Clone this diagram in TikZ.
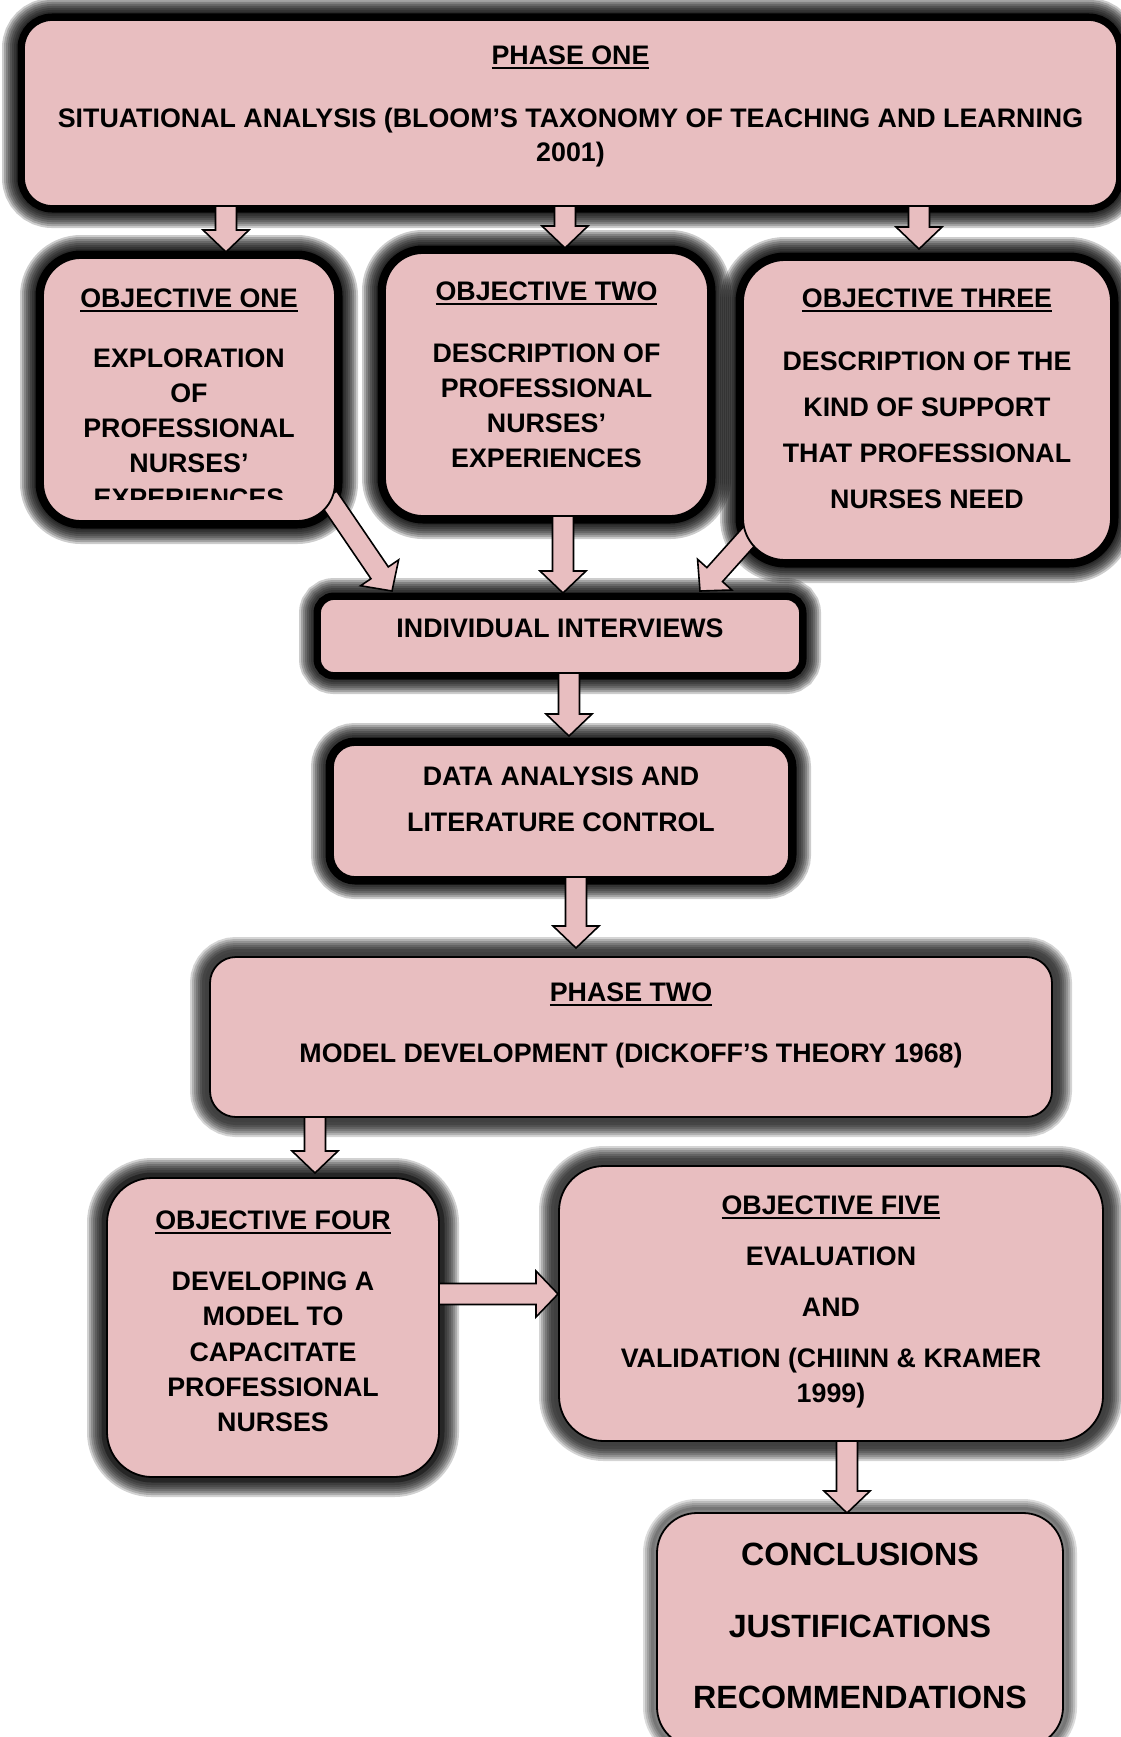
\documentclass[tikz,border=0pt]{standalone}
\usepackage{fontspec}
\setmainfont{Liberation Sans}
\usetikzlibrary{calc}
\pgfdeclarelayer{bg}
\pgfdeclarelayer{mid}
\pgfsetlayers{bg,mid,main}
\definecolor{boxpink}{RGB}{232,190,192}
\newcommand\ulhead[1]{\setbox0=\hbox{#1}\rlap{\rule[-4.5pt]{\wd0}{2.3pt}}\box0}
\newcommand\blockarrow[2]{%
  \coordinate (ahb) at ($#2!22pt!#1$);
  \draw[barrow] ($#1!10.5pt!90:#2$) -- ($(ahb)!10.5pt!90:#2$) -- ($(ahb)!23pt!90:#2$) -- #2
    -- ($(ahb)!23pt!-90:#2$) -- ($(ahb)!10.5pt!-90:#2$) -- ($#1!10.5pt!-90:#2$) -- cycle;}
% #1 node, #2 corner radius, #3 solid ring colour, #4 solid ring width, #5 list of blur widths, #6 blur opacity
\newcommand\glowof[6]{%
  \foreach \gw in {#5}{\path[draw=black, line width=\gw pt, opacity=#6, rounded corners=#2]
     (#1.south west) rectangle (#1.north east);}
  \path[draw=#3, fill=#3, line width=#4, rounded corners=#2] (#1.south west) rectangle (#1.north east);}
\tikzset{
  pbox/.style={draw=black, line width=1.8pt, fill=boxpink, inner sep=0pt, outer sep=0pt},
  txt/.style={font=\fontsize{26.8}{35}\selectfont\bfseries, align=center, inner sep=0pt, anchor=north},
  barrow/.style={draw=black, line width=1.6pt, fill=boxpink, line join=miter},
}
\begin{document}
\begin{tikzpicture}[x=1pt, y=-1pt]
\useasboundingbox (0,0) rectangle (1121,1737);
% boxes
\node[pbox, rounded corners=28pt, minimum width=1093pt, minimum height=186pt] (p1) at (570.5,113) {};
\node[pbox, rounded corners=38pt, minimum width=292pt, minimum height=263pt] (o1) at (189,389.5) {};
\node[pbox, rounded corners=38pt, minimum width=323pt, minimum height=263pt] (o2) at (546.5,384.5) {};
\node[pbox, rounded corners=42pt, minimum width=368pt, minimum height=300pt] (o3) at (927,410) {};
\node[pbox, rounded corners=14pt, minimum width=480pt, minimum height=74pt] (iv) at (560,636) {};
\node[pbox, rounded corners=22pt, minimum width=456pt, minimum height=132pt] (da) at (561,811) {};
\node[pbox, rounded corners=26pt, minimum width=842pt, minimum height=160pt] (p2) at (631,1037) {};
\node[pbox, rounded corners=45pt, minimum width=332pt, minimum height=299pt] (o4) at (273,1327.5) {};
\node[pbox, rounded corners=45pt, minimum width=544pt, minimum height=275pt] (o5) at (831,1303.5) {};
\node[pbox, rounded corners=40pt, minimum width=406pt, minimum height=234pt] (cc) at (860,1630) {};
% shadows
\begin{pgfonlayer}{bg}
\fill[white] (0,0) rectangle (1121,1737);
\glowof{p1}{28pt}{black}{13pt}{44,40,36,32,28,24,20,16}{0.2}
\glowof{o1}{38pt}{black}{15pt}{46,42,38,34,30,26,22,18}{0.2}
\glowof{o2}{38pt}{black}{15pt}{46,42,38,34,30,26,22,18}{0.2}
\glowof{o3}{42pt}{black}{15pt}{46,42,38,34,30,26,22,18}{0.2}
\glowof{iv}{14pt}{black}{13pt}{42,38,34,30,26,22,18}{0.2}
\glowof{da}{22pt}{black}{15pt}{44,40,36,32,28,24,20}{0.2}
\glowof{p2}{26pt}{black!75}{10pt}{40,36,32,28,24,20,16}{0.17}
\glowof{o4}{45pt}{black!85}{11pt}{40,36,32,28,24,20,16}{0.18}
\glowof{o5}{45pt}{black!75}{10pt}{40,36,32,28,24,20,16}{0.17}
\glowof{cc}{40pt}{black!50}{6pt}{28,24,20,16,12}{0.14}
\end{pgfonlayer}
% texts
\node[txt, font=\fontsize{26.8}{34.5}\selectfont\bfseries] (p1t) at (570.5,45.5)
  {\ulhead{PHASE ONE}\\[28.5pt] SITUATIONAL ANALYSIS (BLOOM’S TAXONOMY OF TEACHING AND LEARNING\\ 2001)};
\begin{scope}
\clip (43,258) rectangle (335,499);
\node[txt] (o1t) at (189,288.5)
  {\ulhead{OBJECTIVE ONE}\\[25pt] EXPLORATION\\ OF\\ PROFESSIONAL\\ NURSES’\\ EXPERIENCES};
\end{scope}
\node[txt] (o2t) at (546.5,281.5)
  {\ulhead{OBJECTIVE TWO}\\[27pt] DESCRIPTION OF\\ PROFESSIONAL\\ NURSES’\\ EXPERIENCES};
\node[txt, font=\fontsize{26.8}{46}\selectfont\bfseries] (o3t) at (927,288.5)
  {\ulhead{OBJECTIVE THREE}\\[17pt] DESCRIPTION OF THE\\ KIND OF SUPPORT\\ THAT PROFESSIONAL\\ NURSES NEED};
\node[txt] (ivt) at (560,618.5) {INDIVIDUAL INTERVIEWS};
\node[txt, font=\fontsize{26.8}{46}\selectfont\bfseries] (dat) at (561,766.5)
  {DATA ANALYSIS AND\\ LITERATURE CONTROL};
\node[txt] (p2t) at (631,982.5)
  {\ulhead{PHASE TWO}\\[26pt] MODEL DEVELOPMENT (DICKOFF’S THEORY 1968)};
\node[txt, font=\fontsize{26.8}{35.3}\selectfont\bfseries] (o4t) at (273,1210.5)
  {\ulhead{OBJECTIVE FOUR}\\[25.7pt] DEVELOPING A\\ MODEL TO\\ CAPACITATE\\ PROFESSIONAL\\ NURSES};
\node[txt] (o5t) at (831,1195.5)
  {\ulhead{OBJECTIVE FIVE}\\[16pt] EVALUATION\\[16pt] AND\\[16pt] VALIDATION (CHIINN \& KRAMER\\ 1999)};
\node[txt, font=\fontsize{32.2}{71.5}\selectfont\bfseries] (cct) at (860,1543)
  {CONCLUSIONS\\ JUSTIFICATIONS\\ RECOMMENDATIONS};
% arrows
\begin{pgfonlayer}{mid}
\blockarrow{([xshift=-344.5pt]p1.south)}{([shift={(37,-6)}]o1.north)}
\blockarrow{([xshift=-5.5pt]p1.south)}{([shift={(18.5,-5)}]o2.north)}
\blockarrow{([xshift=348.5pt]p1.south)}{([shift={(-8,-11)}]o3.north)}
\blockarrow{([shift={(-7,-24)}]o1.south east)}{([shift={(-168,-8)}]iv.north)}
\blockarrow{([xshift=16.5pt]o2.south)}{([shift={(3,-6)}]iv.north)}
\blockarrow{([shift={(9,-27)}]o3.south west)}{([shift={(140,-8)}]iv.north)}
\blockarrow{([xshift=9pt]iv.south)}{([shift={(8,-9)}]da.north)}
\blockarrow{([xshift=15pt]da.south)}{([shift={(-55,-9)}]p2.north)}
\blockarrow{([xshift=-316pt]p2.south)}{([shift={(42,-5)}]o4.north)}
\blockarrow{([shift={(0,-33.5)}]o4.east)}{([shift={(-1,-9.5)}]o5.west)}
\blockarrow{([xshift=16pt]o5.south)}{([xshift=-13pt]cc.north)}
\end{pgfonlayer}
\end{tikzpicture}
\end{document}
